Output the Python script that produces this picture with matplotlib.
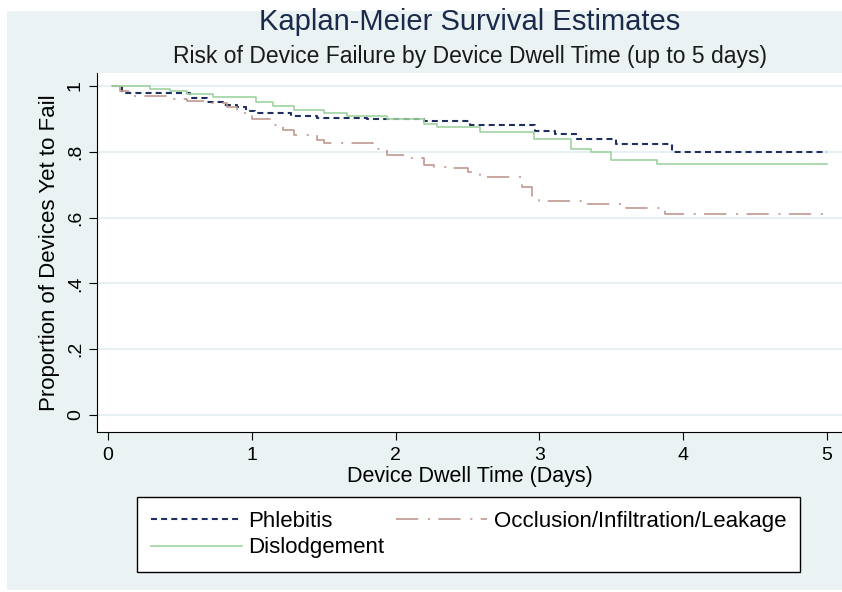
import matplotlib.pyplot as plt
from matplotlib.patches import Rectangle

plt.rcParams['font.family'] = ['Liberation Sans', 'DejaVu Sans']
plt.rcParams['lines.scale_dashes'] = False

# step start times (days) and survival proportion
phleb_t = [0.03, 0.10, 0.57, 0.69, 0.80, 0.90, 0.96, 1.02, 1.27, 1.45, 1.80, 2.20, 2.52,
           2.97, 3.11, 3.26, 3.53, 3.92, 5.0]
phleb_s = [1.00, 0.979, 0.963, 0.951, 0.942, 0.936, 0.924, 0.918, 0.909, 0.903, 0.900, 0.894,
           0.881, 0.863, 0.854, 0.839, 0.824, 0.799, 0.799]

occl_t = [0.03, 0.08, 0.17, 0.45, 0.55, 0.69, 0.83, 0.90, 1.00, 1.13, 1.22, 1.29, 1.45, 1.50,
          1.84, 1.94, 2.09, 2.20, 2.27, 2.40, 2.50, 2.59, 2.88, 2.95, 3.00, 3.30, 3.60, 3.87, 5.0]
occl_s = [1.00, 0.985, 0.970, 0.960, 0.955, 0.948, 0.936, 0.918, 0.900, 0.881, 0.866, 0.851,
          0.836, 0.827, 0.809, 0.790, 0.781, 0.760, 0.754, 0.751, 0.739, 0.723, 0.693, 0.660,
          0.650, 0.641, 0.629, 0.611, 0.611]

disl_t = [0.03, 0.29, 0.43, 0.55, 0.73, 1.03, 1.15, 1.29, 1.50, 1.66, 1.94, 2.20, 2.29, 2.59,
          2.96, 3.22, 3.36, 3.50, 3.82, 5.0]
disl_s = [1.00, 0.990, 0.985, 0.976, 0.967, 0.951, 0.939, 0.927, 0.918, 0.909, 0.900, 0.885,
          0.875, 0.860, 0.839, 0.809, 0.800, 0.775, 0.763, 0.763]

x_ticks = [0, 1, 2, 3, 4, 5]
y_ticks = [0, 0.2, 0.4, 0.6, 0.8, 1.0]
y_labels = ['0', '.2', '.4', '.6', '.8', '1']

fig = plt.figure(figsize=(8.42, 5.92), dpi=100)
fig.patch.set_facecolor('white')
fig.patches.append(Rectangle((7 / 842, 2 / 592), 1, (592 - 13) / 592, transform=fig.transFigure,
                             facecolor='#eaf2f3', edgecolor='none', zorder=-10))

ax = fig.add_axes([97 / 842, 1 - 432 / 592, (842 - 97) / 842, (432 - 73) / 592])
ax.set_facecolor('white')

p1, = ax.step(phleb_t, phleb_s, where='post', color='#1f2f5f', lw=1.5, dashes=(4.3, 3))
p2, = ax.step(occl_t, occl_s, where='post', color='#c09890', lw=1.2, dashes=(16, 7, 1.5, 6))
p3, = ax.step(disl_t, disl_s, where='post', color='#9fd29f', lw=1.2)

ax.set_xlim(-0.0765, 5.104)
ax.set_ylim(-0.0517, 1.0395)
ax.set_xticks(x_ticks)
ax.set_yticks(y_ticks)
ax.set_yticklabels(y_labels, rotation=90, va='center')
ax.tick_params(labelsize=14, length=6, color='black')
ax.tick_params(axis='x', pad=5)
ax.grid(axis='y', color='#e3eef0', lw=1.2)
ax.set_axisbelow(True)
for s in ['top', 'right']:
    ax.spines[s].set_visible(False)

ax.set_xlabel('Device Dwell Time (Days)', fontsize=15.5, labelpad=1)
ax.set_ylabel('Proportion of Devices Yet to Fail', fontsize=16, labelpad=5)

fig.text(0.558, 1 - 22 / 592, 'Kaplan-Meier Survival Estimates', ha='center', va='center',
         fontsize=21, color='#1a2a4a')
fig.text(0.558, 1 - 57 / 592, 'Risk of Device Failure by Device Dwell Time (up to 5 days)',
         ha='center', va='center', fontsize=16.5, color='#1a1a1a')

leg = fig.legend([p1, p3, p2], ['Phlebitis', 'Dislodgement', 'Occlusion/Infiltration/Leakage'],
                 ncol=2, loc='upper left', mode='expand', fontsize=16,
                 bbox_to_anchor=(137 / 842, 1 - 573 / 592, (800 - 137) / 842, (573 - 497) / 592),
                 bbox_transform=fig.transFigure, fancybox=False, framealpha=1,
                 edgecolor='black', handlelength=4.1, handletextpad=0.3, borderpad=0.62,
                 labelspacing=0.25, borderaxespad=0)
leg.get_frame().set_linewidth(1.0)

fig.savefig('out.png', dpi=100)
